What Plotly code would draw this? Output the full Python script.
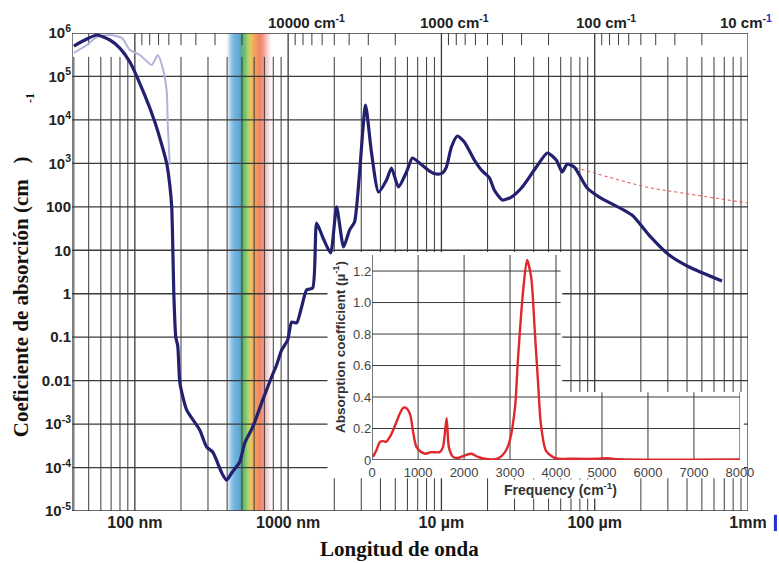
import math
import plotly.graph_objects as go

# ---------------- data ----------------
# Liquid water: absorption coefficient (cm^-1) versus wavelength (nm)
wl_nm = [40, 47.2, 56.5, 68.7, 79.8, 92.8, 116, 135, 150, 161.6,
         169, 174, 177, 179.6, 185, 190.5, 196, 202, 218, 265,
         294, 322, 347, 369, 397, 428, 483, 521, 587, 683,
         780, 841, 907, 993, 1054, 1136, 1224, 1320, 1445, 1535,
         1679, 1892, 2070, 2300, 2517, 2711, 2923, 3200, 3500, 3890,
         4385, 4723, 5245, 5915, 6470, 7190, 8350, 9270, 10160, 10780,
         11620, 12710, 14100, 16400, 18200, 20600, 22100, 25000, 28600, 33700,
         41600, 49100, 56100, 61400, 66200, 73500, 89300, 107000, 175000, 226000,
         306000, 413000, 677000]
alpha = [5.0e5, 6.9e5, 9.0e5, 6.9e5, 4.5e5, 2.15e5, 3.7e4, 9.0e3, 2.64e3, 970,
         318, 100, 10, 1.0, 0.1, 0.0625, 0.0098, 5.5e-3, 2.1e-3, 7.3e-4,
         2.96e-4, 2.28e-4, 1.27e-4, 7.5e-5, 5.15e-5, 7.5e-5, 1.34e-4, 3.66e-4, 8.5e-4, 3.6e-3,
         0.0121, 0.0229, 0.0506, 0.086, 0.223, 0.212, 0.494, 1.22, 1.35, 42.4,
         20.2, 8.65, 100, 11.9, 29.3, 44.7, 600, 2.2e4, 1730, 219,
         414, 782, 286, 632, 1330, 1020, 667, 569, 600, 824,
         2380, 4260, 3100, 1194, 703, 460, 244, 143, 168, 286,
         824, 1730, 1194, 632, 966, 824, 271, 168, 64.7, 22.4,
         7.78, 4.12, 1.96]

# Second (light) curve in the far ultraviolet
uv_wl_nm = [40, 48.6, 56.5, 68.7, 82.3, 92.8, 107.8, 129, 141, 152, 161.5, 164, 169]
uv_alpha = [3.47e5, 5.3e5, 8.1e5, 9.0e5, 7.7e5, 4.07e5, 3.12e5, 1.84e5, 3.12e5, 1.56e5,
            4.4e4, 7.6e3, 916]

# Dotted far-infrared continuation
fir_wl_nm = [75000, 217000, 340000, 1000000]
fir_alpha = [800, 286, 219, 122]

# Inset: absorption coefficient (µ^-1) versus frequency (cm^-1)
ins_freq = [20, 90, 170, 240, 300, 410, 520, 610, 670, 740,
            830, 890, 960, 1070, 1170, 1280, 1470, 1540, 1620, 1670,
            1760, 1870, 2020, 2160, 2300, 2520, 2740, 2890, 3000, 3110,
            3170, 3280, 3370, 3460, 3540, 3610, 3670, 3780, 3980, 4400,
            4900, 5130, 5350, 8000]
ins_abs = [0.02, 0.06, 0.115, 0.12, 0.115, 0.16, 0.235, 0.30, 0.33, 0.33,
           0.285, 0.18, 0.085, 0.05, 0.04, 0.05, 0.05, 0.08, 0.265, 0.08,
           0.02, 0.013, 0.03, 0.04, 0.02, 0.005, 0.01, 0.05, 0.13, 0.34,
           0.63, 1.06, 1.27, 1.16, 0.81, 0.49, 0.23, 0.06, 0.012, 0.008,
           0.008, 0.012, 0.005, 0.003]

# Axis labels
y_tickvals = [1e6, 1e5, 1e4, 1e3, 100, 10, 1, 0.1, 0.01, 1e-3, 1e-4, 1e-5]
y_ticktext = ["10<sup>6</sup>", "10<sup>5</sup>", "10<sup>4</sup>", "10<sup>3</sup>", "100", "10",
              "1", "0.1", "0.01", "10<sup>-3</sup>", "10<sup>-4</sup>", "10<sup>-5</sup>"]
x_tickvals = [100, 1000, 1e4, 1e5, 1e6]
x_ticktext = ["100 nm", "1000 nm", "10 \u00b5m", "100 \u00b5m", "1mm"]
top_wavenumbers = [10000, 1000, 100, 10]
top_labels = ["10000 cm<sup>-1</sup>", "1000 cm<sup>-1</sup>", "100 cm<sup>-1</sup>",
              "10 cm<sup>-<span style='color:#2030c0'>1</span></sup>"]
top_label_shift = [18, 13, 11, -2]
ins_xticks = [0, 1000, 2000, 3000, 4000, 5000, 6000, 7000, 8000]
ins_yticks = [0, 0.2, 0.4, 0.6, 0.8, 1.0, 1.2]
ins_yticktext = ["0", "0.2", "0.4", "0.6", "0.8", "1.0", "1.2"]

# Visible-band colour stops (nm, colour)
band_stops = [(395, "#ffffff"), (405, "#e6edf4"), (415, "#a8cce8"), (430, "#68b0e0"),
              (450, "#3f9bd6"), (475, "#3590cc"), (490, "#1f8a9a"), (505, "#2f9e52"),
              (525, "#48ad40"), (545, "#8cc440"), (565, "#c8c038"), (580, "#eaa830"),
              (600, "#ee8a2e"), (630, "#ec7430"), (660, "#e8623e"), (690, "#ee7c70"),
              (715, "#f2a4a4"), (745, "#f8d0d0"), (780, "#ffffff")]

# ---------------- styling constants ----------------
X_LOG_RANGE = [1.59, 6.0]
Y_LOG_RANGE = [-5, 6]
X_LEFT = 10 ** X_LOG_RANGE[0]
X_RIGHT = 10 ** X_LOG_RANGE[1]
Y_BOT = 10 ** Y_LOG_RANGE[0]
Y_TOP = 10 ** Y_LOG_RANGE[1]
MINOR_TOP = 10 ** 5.45      # minor wavelength lines start a little below the top
TICK_BOTTOM = 10 ** 5.72    # short wavenumber ticks hanging from the top edge
GRID = "#3a3a3a"
INS_TOP = 1.302
INS_RIGHT_TOP = 0.43
INS_SPLIT = 4100

shapes = []


def hex_rgb(h):
    h = h.lstrip("#")
    return tuple(int(h[i:i + 2], 16) for i in (0, 2, 4))


def band_color(wl):
    lw = math.log10(wl)
    for (w0, c0), (w1, c1) in zip(band_stops[:-1], band_stops[1:]):
        if w0 <= wl <= w1:
            t = (lw - math.log10(w0)) / (math.log10(w1) - math.log10(w0))
            a, b = hex_rgb(c0), hex_rgb(c1)
            r = [round(a[i] + (b[i] - a[i]) * t) for i in range(3)]
            return "rgb(%d,%d,%d)" % tuple(r)
    return "#ffffff"


# visible spectrum band, thin slices
n_slices = 90
lo, hi = math.log10(band_stops[0][0]), math.log10(band_stops[-1][0])
for i in range(n_slices):
    a = 10 ** (lo + (hi - lo) * i / n_slices)
    b = 10 ** (lo + (hi - lo) * (i + 1.05) / n_slices)
    mid = math.sqrt(a * b)
    shapes.append(dict(type="rect", xref="x", yref="y", x0=a, x1=b, y0=Y_BOT, y1=Y_TOP,
                       fillcolor=band_color(mid), line=dict(width=0), layer="below"))


def vline(x, y0, y1, w=1.0, xref="x", yref="y"):
    shapes.append(dict(type="line", xref=xref, yref=yref, x0=x, x1=x, y0=y0, y1=y1,
                       line=dict(color=GRID, width=w), layer="below"))


def hline(y, x0, x1, w=1.0, xref="x", yref="y"):
    shapes.append(dict(type="line", xref=xref, yref=yref, x0=x0, x1=x1, y0=y, y1=y,
                       line=dict(color=GRID, width=w), layer="below"))


# minor wavelength grid (2..9 x decade)
for n in range(1, 6):
    for m in range(2, 10):
        v = m * 10 ** n
        if X_LEFT < v < X_RIGHT:
            vline(v, Y_BOT, MINOR_TOP)

# short wavenumber ticks along the top edge
for n in range(1, 6):
    for m in range(2, 10):
        lam = 1e7 / (m * 10 ** n)
        if X_LEFT < lam < X_RIGHT:
            vline(lam, TICK_BOTTOM, Y_TOP)

# decade lines and frame
for v in [X_LEFT, 100, 1000, 1e4, 1e5, 1e6]:
    vline(v, Y_BOT, Y_TOP, 1.3)
for k in range(Y_LOG_RANGE[0], Y_LOG_RANGE[1] + 1):
    hline(10 ** k, X_LEFT, X_RIGHT, 1.3)

# white backing of the inset (in main-axis units)
shapes.append(dict(type="rect", xref="x", yref="y", x0=1807, x1=6.14e4, y0=5.7e-5, y1=9.1,
                   fillcolor="white", line=dict(width=0), layer="below"))
shapes.append(dict(type="rect", xref="x", yref="y", x0=6.14e4, x1=9.4e5, y0=5.7e-5, y1=5.5e-3,
                   fillcolor="white", line=dict(width=0), layer="below"))

# inset grid
for f in [1000, 2000, 3000, 4000]:
    vline(f, 0, INS_TOP, 1.0, "x2", "y2")
for f in [5000, 6000, 7000, 8000]:
    vline(f, 0, INS_RIGHT_TOP, 1.0, "x2", "y2")
for a in [0.2, 0.4]:
    hline(a, 0, 8000, 1.0, "x2", "y2")
for a in [0.6, 0.8, 1.0, 1.2]:
    hline(a, 0, INS_SPLIT, 1.0, "x2", "y2")
vline(0, 0, INS_TOP, 1.3, "x2", "y2")
hline(0, 0, 8000, 1.3, "x2", "y2")

# small blue mark beside the 1mm label
shapes.append(dict(type="rect", xref="paper", yref="paper", x0=1.0383, x1=1.0428,
                   y0=-0.042, y1=-0.008, fillcolor="#2233cc", line=dict(width=0)))

# ---------------- traces ----------------
fig = go.Figure()
fig.add_trace(go.Scatter(x=uv_wl_nm, y=uv_alpha, mode="lines",
                         line=dict(color="#b2b2dc", width=2, shape="spline", smoothing=0.6),
                         xaxis="x", yaxis="y", hoverinfo="skip"))
fig.add_trace(go.Scatter(x=fir_wl_nm, y=fir_alpha, mode="lines",
                         line=dict(color="#e04848", width=1, dash="dot", shape="spline"),
                         xaxis="x", yaxis="y", hoverinfo="skip"))
fig.add_trace(go.Scatter(x=wl_nm, y=alpha, mode="lines",
                         line=dict(color="#23206f", width=3.2, shape="spline", smoothing=0.6),
                         xaxis="x", yaxis="y"))
fig.add_trace(go.Scatter(x=ins_freq, y=ins_abs, mode="lines",
                         line=dict(color="#e0282b", width=2.4, shape="spline", smoothing=0.7),
                         xaxis="x2", yaxis="y2"))

# ---------------- annotations ----------------
ann = []
for nu, txt, dx in zip(top_wavenumbers, top_labels, top_label_shift):
    ann.append(dict(x=math.log10(1e7 / nu), y=1, xref="x", yref="paper", text="<b>%s</b>" % txt,
                    showarrow=False, xanchor="center", yanchor="bottom", xshift=dx, yshift=0,
                    font=dict(family="Liberation Sans", size=15, color="#222")))
ann.append(dict(x=-0.0752, y=0.4477, xref="paper", yref="paper", textangle=-90,
                xanchor="center", yanchor="middle",
                text="<b>Coeficiente de absorción (cm&nbsp;&nbsp;&nbsp;)</b>", showarrow=False,
                font=dict(family="Liberation Serif", size=21, color="#111")))
ann.append(dict(x=-0.062, y=0.864, xref="paper", yref="paper", textangle=-90,
                xanchor="center", yanchor="middle",
                text="<b>-1</b>", showarrow=False,
                font=dict(family="Liberation Serif", size=12, color="#111")))
ann.append(dict(x=0.485, y=-0.0795, xref="paper", yref="paper",
                xanchor="center", yanchor="middle",
                text="<b>Longitud de onda</b>", showarrow=False,
                font=dict(family="Liberation Serif", size=21, color="#111")))
ann.append(dict(x=0.395, y=0.343, xref="paper", yref="paper", textangle=-90,
                xanchor="center", yanchor="middle",
                text="<b>Absorption coefficient (\u00b5<sup>-1</sup>)</b>", showarrow=False,
                font=dict(family="Liberation Sans", size=13.5, color="#333")))
ann.append(dict(x=0.7227, y=0.046, xref="paper", yref="paper",
                xanchor="center", yanchor="middle", borderpad=0,
                text="<b>Frequency (cm<sup>-1</sup>)</b>", showarrow=False, bgcolor="white",
                font=dict(family="Liberation Sans", size=14, color="#333")))

fig.update_layout(
    width=779, height=563,
    margin=dict(l=72, r=29, t=33, b=52),
    paper_bgcolor="white", plot_bgcolor="rgba(0,0,0,0)",
    showlegend=False, shapes=shapes, annotations=ann,
    xaxis=dict(type="log", range=X_LOG_RANGE, domain=[0, 1], anchor="y",
               showgrid=False, zeroline=False, showline=False, ticks="",
               tickvals=x_tickvals, ticktext=["<b>%s</b>" % t for t in x_ticktext],
               tickfont=dict(family="Liberation Sans", size=16, color="#222")),
    yaxis=dict(type="log", range=Y_LOG_RANGE, domain=[0, 1], anchor="x",
               showgrid=False, zeroline=False, showline=False, ticks="",
               tickvals=y_tickvals, ticktext=["<b>%s</b>" % t for t in y_ticktext],
               tickfont=dict(family="Liberation Sans", size=15, color="#222")),
    xaxis2=dict(domain=[0.444, 0.988], anchor="y2", range=[0, 8000],
                showgrid=False, zeroline=False, showline=False, ticks="",
                ticklabelstandoff=3,
                tickvals=ins_xticks, tickfont=dict(family="Liberation Sans", size=13, color="#444")),
    yaxis2=dict(domain=[0.1067, 0.5356], anchor="x2", range=[0, INS_TOP],
                showgrid=False, zeroline=False, showline=False, ticks="",
                tickvals=ins_yticks, ticktext=ins_yticktext,
                tickfont=dict(family="Liberation Sans", size=13, color="#444")),
)

fig.write_html("out.html")
